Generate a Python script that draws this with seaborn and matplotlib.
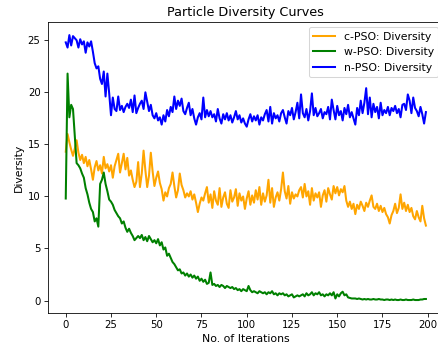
import numpy as np
import pandas as pd
import seaborn as sns
import matplotlib
matplotlib.use("Agg")
import matplotlib.pyplot as plt

# diversity values, one per iteration (0..199)
c_pso = [
    14.3, 16.0, 15.2, 14.5, 13.9, 14.6, 15.4, 14.2, 13.5, 14.0,
    13.2, 13.8, 12.9, 13.5, 12.6, 11.6, 12.8, 13.4, 12.5, 13.0,
    12.2, 13.8, 12.7, 13.1, 12.4, 13.0, 11.8, 12.9, 13.5, 14.1,
    12.3, 13.2, 14.1, 12.6, 13.7, 12.0, 12.5, 11.6, 10.9, 11.4,
    13.3, 10.9, 12.2, 14.4, 12.5, 10.9, 12.0, 14.2, 12.4, 11.0,
    11.8, 12.4, 11.3, 10.7, 9.6, 10.4, 10.0, 10.8, 11.2, 12.3,
    11.0, 9.9, 10.6, 12.2, 11.1, 10.6, 9.9, 10.3, 10.0, 10.5,
    9.7, 10.2, 9.4, 8.5, 9.3, 9.9, 9.6, 10.3, 10.9, 9.4,
    10.2, 8.9, 10.5, 9.6, 9.2, 10.8, 9.0, 9.9, 10.4, 9.3,
    8.9, 10.6, 9.5, 9.9, 10.7, 9.1, 10.3, 9.6, 10.0, 8.8,
    9.8, 10.5, 9.2, 10.1, 9.4, 10.6, 9.7, 10.9, 9.2, 10.3,
    9.5, 10.1, 11.6, 9.4, 10.8, 9.0, 9.9, 10.4, 9.6, 10.7,
    12.3, 10.5, 9.8, 11.0, 9.3, 10.4, 9.8, 10.2, 10.0, 10.6,
    10.9, 9.9, 11.2, 10.0, 10.5, 9.2, 10.8, 9.6, 10.3, 9.9,
    10.4, 9.0, 10.1, 10.6, 9.5, 10.8, 10.2, 9.7, 11.0, 10.3,
    10.9, 10.1, 10.7, 10.4, 11.0, 9.6, 9.0, 9.5, 8.8, 9.3,
    8.3, 9.2, 8.8, 9.5, 9.1, 8.6, 9.4, 9.0, 9.6, 10.1,
    9.0, 8.8, 9.3, 8.6, 9.1, 8.5, 8.9, 8.3, 8.0, 7.4,
    8.2, 8.6, 9.3, 8.4, 8.9, 10.2, 8.8, 9.4, 8.6, 9.2,
    8.5, 8.9, 8.1, 7.8, 8.6, 8.0, 7.6, 9.1, 7.9, 7.2,
]

w_pso = [
    9.8, 21.8, 17.6, 18.8, 18.4, 15.8, 13.2, 13.0, 12.7, 12.2,
    11.8, 10.8, 10.2, 9.4, 8.8, 8.5, 7.6, 7.9, 7.1, 11.2,
    11.6, 12.3, 11.2, 10.5, 9.7, 9.5, 9.2, 8.7, 8.4, 8.1,
    7.9, 7.4, 7.6, 7.0, 6.6, 6.9, 6.5, 6.2, 5.8, 6.0,
    6.2, 6.0, 6.3, 5.8, 6.1, 5.7, 6.2, 5.9, 5.6, 5.8,
    5.5, 5.9, 5.3, 5.6, 4.9, 5.1, 4.3, 4.5, 4.1, 3.7,
    3.5, 3.2, 2.9, 3.0, 2.6, 2.7, 2.4, 2.6, 2.3, 2.5,
    2.2, 2.4, 2.1, 2.3, 1.9, 2.1, 1.8, 2.0, 1.6, 1.7,
    2.7, 1.5, 1.6, 1.4, 1.5, 1.3, 1.5, 1.4, 1.2, 1.4,
    1.3, 1.2, 1.3, 1.1, 1.2, 1.0, 1.1, 0.9, 1.1, 1.0,
    0.9, 1.4, 1.0, 0.8, 0.9, 0.8, 0.7, 0.9, 0.8, 0.7,
    0.8, 0.6, 0.8, 0.7, 0.9, 0.6, 0.7, 0.5, 0.7, 0.6,
    0.7, 0.5, 0.6, 0.4, 0.5, 0.6, 0.3, 0.4, 0.5, 0.4,
    0.5, 0.6, 0.4, 0.7, 0.5, 0.6, 0.8, 0.5, 0.7, 0.6,
    0.8, 0.5, 0.6, 0.4, 0.6, 0.5, 0.7, 0.5, 0.8, 0.2,
    0.6, 0.4, 0.7, 0.85, 0.5, 0.6, 0.3, 0.25, 0.2, 0.2,
    0.2, 0.15, 0.2, 0.15, 0.1, 0.15, 0.1, 0.15, 0.1, 0.1,
    0.15, 0.1, 0.1, 0.15, 0.1, 0.1, 0.05, 0.1, 0.1, 0.05,
    0.1, 0.05, 0.1, 0.05, 0.05, 0.1, 0.05, 0.05, 0.1, 0.05,
    0.05, 0.05, 0.1, 0.05, 0.05, 0.05, 0.1, 0.1, 0.15, 0.15,
]

n_pso = [
    24.8, 24.3, 25.5, 24.5, 25.4, 25.2, 25.0, 24.3, 25.1, 24.6,
    24.9, 23.8, 24.8, 24.4, 24.9, 23.9, 22.8, 22.3, 22.5, 21.3,
    20.8, 22.0, 19.6, 21.8, 19.9, 17.8, 19.5, 18.4, 18.2, 19.6,
    18.3, 18.7, 18.1, 18.6, 18.9, 18.5, 19.3, 18.1, 19.7, 18.0,
    18.5, 18.9, 19.2, 18.4, 20.0, 19.1, 18.2, 18.8, 17.8, 17.5,
    18.0, 17.3, 17.6, 16.9, 17.8, 17.2, 18.3, 17.7, 18.6, 18.1,
    19.6, 18.4, 19.2, 18.7, 19.4, 18.2, 17.9, 18.5, 19.0, 17.8,
    18.4, 17.5, 16.9, 17.6, 18.0, 17.4, 19.5, 17.6, 18.3, 17.7,
    18.2, 17.6, 17.9, 17.2, 18.4, 17.5, 17.0, 17.9, 17.4, 18.0,
    17.3, 17.8, 17.1, 17.6, 18.2, 17.4, 17.8, 17.1, 17.5, 17.0,
    16.7, 17.4, 17.9, 17.2, 17.7, 17.3, 17.8, 16.9, 17.6, 17.3,
    17.9, 18.3, 17.2, 18.6, 17.0, 18.0, 17.5, 17.8, 17.2, 18.0,
    18.3, 17.6, 17.0, 18.2, 17.8, 18.5, 17.4, 18.1, 19.0, 17.5,
    19.8, 18.0, 17.6, 18.4, 17.3, 18.2, 19.9, 17.8, 18.5, 17.7,
    18.0, 18.4, 17.5, 18.1, 17.9, 18.6, 17.4, 19.3, 18.3, 17.4,
    18.7, 17.8, 18.2, 17.3, 18.5, 17.9, 18.8, 17.6, 18.1, 17.5,
    16.9, 18.5, 17.8, 19.2, 18.0, 19.0, 20.4, 17.9, 19.5, 17.6,
    18.9, 18.1, 18.6, 17.5, 19.0, 17.8, 18.3, 18.0, 18.6, 17.8,
    18.5, 18.2, 18.7, 18.0, 18.4, 17.6, 18.8, 18.9, 18.3, 19.8,
    19.2, 18.0, 19.5, 18.5, 18.2, 17.7, 18.6, 17.9, 17.0, 18.1,
]

series = [
    ("c-PSO: Diversity", c_pso, "orange"),
    ("w-PSO: Diversity", w_pso, "green"),
    ("n-PSO: Diversity", n_pso, "blue"),
]

fig = plt.figure(figsize=(438 / 73.3, 352 / 73.3), dpi=73.3)
# right edge of the axes runs past the figure, as in the cropped original
ax = fig.add_axes([0.109, 0.110, 0.9045, 0.828])

for name, vals, col in series:
    df = pd.DataFrame({"iter": np.arange(len(vals)), "div": vals})
    sns.lineplot(data=df, x="iter", y="div", color=col, linewidth=2, label=name, ax=ax)

ax.set_xticks([0, 25, 50, 75, 100, 125, 150, 175, 200])
ax.set_yticks([0, 5, 10, 15, 20, 25])
ax.tick_params(labelsize=10)
ax.set_title("Particle Diversity Curves", fontsize=12.5)
ax.set_xlabel("No. of Iterations", fontsize=10.7)
ax.set_ylabel("Diversity", fontsize=10.7)
ax.legend(loc="upper right", fontsize=10.7)

fig.savefig("out.png", dpi=73.3)
